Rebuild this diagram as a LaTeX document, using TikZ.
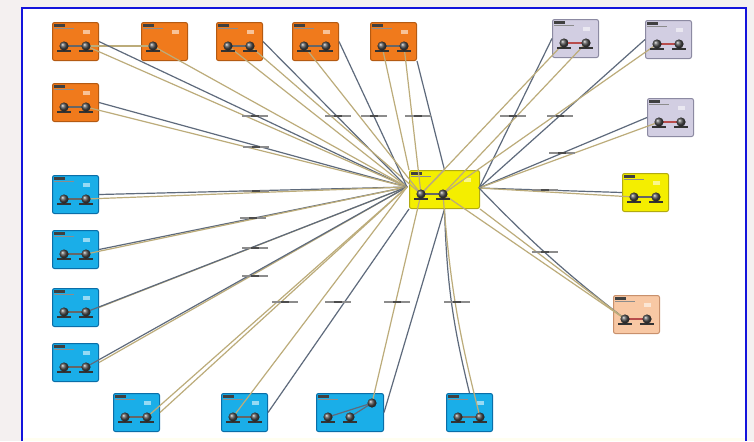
\documentclass[tikz,border=0pt]{standalone}
\usepackage{tikz}
\usetikzlibrary{calc,positioning}

\definecolor{orng}{HTML}{F07A1C}
\definecolor{orngd}{HTML}{B45A12}
\definecolor{lav}{HTML}{D2CEE2}
\definecolor{lavd}{HTML}{8C8AA2}
\definecolor{yel}{HTML}{F4EE00}
\definecolor{yeld}{HTML}{B2AA10}
\definecolor{pch}{HTML}{F8C8A4}
\definecolor{pchd}{HTML}{C8906C}
\definecolor{blu}{HTML}{1AAEE8}
\definecolor{blud}{HTML}{0A6EA8}
\definecolor{wdark}{HTML}{5E6A7C}
\definecolor{wtan}{HTML}{BCAC7A}
\definecolor{frame}{HTML}{1414DC}
\definecolor{outbg}{HTML}{F4F0F0}

\begin{document}
\begin{tikzpicture}[x=0.5pt, y=-0.5pt,
  dev/.style = {draw, rounded corners=1pt, anchor=north west, inner sep=0pt,
                minimum width=23pt, minimum height=19pt, line width=0.5pt},
  wd/.style = {draw=wdark, line width=0.6pt},
  wt/.style = {draw=wtan, line width=0.6pt},
  lbl/.style = {draw=black!45, line width=0.7pt}]
\useasboundingbox (0,0) rectangle (754,441);
\fill[outbg] (0,0) rectangle (754,441);
\fill[white] (22,8) rectangle (746,438);
\fill[yellow!6] (22,438) rectangle (746,441);
\draw[frame, line width=1.1pt] (22,441) -- (22,8) -- (746,8) -- (746,441);

% devices
\node[dev, fill=orng, draw=orngd] (o1) at (52,22) {};
\node[dev, fill=orng, draw=orngd] (o2) at (141,22) {};
\node[dev, fill=orng, draw=orngd] (o3) at (216,22) {};
\node[dev, fill=orng, draw=orngd] (o4) at (292,22) {};
\node[dev, fill=orng, draw=orngd] (o5) at (370,22) {};
\node[dev, fill=orng, draw=orngd] (o6) at (52,83) {};
\node[dev, fill=lav, draw=lavd] (l1) at (552,19) {};
\node[dev, fill=lav, draw=lavd] (l2) at (645,20) {};
\node[dev, fill=lav, draw=lavd] (l3) at (647,98) {};
\node[dev, fill=yel, draw=yeld] (y2) at (622,173) {};
\node[dev, fill=pch, draw=pchd] (pc) at (613,295) {};
\node[dev, fill=blu, draw=blud] (b1) at (52,175) {};
\node[dev, fill=blu, draw=blud] (b2) at (52,230) {};
\node[dev, fill=blu, draw=blud] (b3) at (52,288) {};
\node[dev, fill=blu, draw=blud] (b4) at (52,343) {};
\node[dev, fill=blu, draw=blud] (b5) at (113,393) {};
\node[dev, fill=blu, draw=blud] (b6) at (221,393) {};
\node[dev, fill=blu, draw=blud, minimum width=33.5pt] (b7) at (316,393) {};
\node[dev, fill=blu, draw=blud] (b8) at (446,393) {};
\node[dev, fill=yel, draw=yeld, minimum width=35pt] (hub) at (409,170) {};

% title bars and icons
\foreach \nm in {o1,o2,o3,o4,o5,o6,l1,l2,l3,y2,pc,b1,b2,b3,b4,b5,b6,b7,b8,hub} {
  \fill[black!75] ($(\nm.north west)+(2,2)$) rectangle ++(11,2.5);
  \fill[black!45] ($(\nm.north west)+(2,5.5)$) rectangle ++(20,1.5);
  \fill[white, opacity=0.55] ($(\nm.north east)+(-16,8)$) rectangle ++(7,4);
}

% ports
\foreach \nm in {o1,o3,o4,o5,o6,l1,l2,l3,y2,pc,b1,b2,b3,b4,b5,b6,b7,b8,hub} {
  \coordinate (\nm-a) at ($(\nm.north west)+(12,24)$);
  \coordinate (\nm-b) at ($(\nm.north west)+(34,24)$);
}
\coordinate (o2-a) at ($(o2.north west)+(12,24)$);
\coordinate (b7-c) at ($(b7.north west)+(56,10)$);
\foreach \nm in {o1,o3,o4,o5,o6,b1,b2,b3,b4,b5,b6,b8,hub,y2}
  \draw[black!60, line width=0.6pt] (\nm-a) -- (\nm-b);
\foreach \nm in {l1,l2,l3,pc}
  \draw[red!60!black!70, line width=0.6pt] (\nm-a) -- (\nm-b);
\draw[wd] (b7-a) -- (b7-c);
\draw[wd] (b7-b) -- (b7-c);

% hub ends
\coordinate (hw) at (407,187);
\coordinate (he) at (479,188);

% links
\draw[wt] (o1-b) -- (o2-a);
\draw[wd] (o1.east) -- (hw);
\draw[wt] (o1-b) -- (hw);
\draw[wt] (o2-a) -- (hw);
\draw[wd] (o3.east) -- (hw);
\draw[wt] (o3-a) -- (hw);
\draw[wt] (o3-b) -- (hub-a);
\draw[wd] (o4.east) -- (hw);
\draw[wt] (o4-a) -- (hub-a);
\draw[wt] (o5-a) -- (hub.north west);
\draw[wt] (o5-b) -- (hub-a);
\draw[wd] (o5.south east) -- (hub.north);
\draw[wd] (o6.east) -- (hw);
\draw[wt] (o6-b) -- (hw);
\draw[wd] (l1.west) -- (he);
\draw[wt] (l1-a) -- (hub-a);
\draw[wt] (l1-b) -- (hub-b);
\draw[wd] (l2.west) -- (he);
\draw[wt] (l2-a) -- (hub-b);
\draw[wd] (l3.west) -- (he);
\draw[wt] (l3-a) -- (he);
\draw[wd] (y2.west) -- (he);
\draw[wt] (y2-a) -- (he);
\draw[wd] (pc-a) to[bend left=4] (he);
\draw[wt] (pc-a) -- (hub-b);
\draw[wt] (pc-a) -- (hub.south east);
\draw[wd] (b1.east) -- (hw);
\draw[wt] (b1-b) -- (hw);
\draw[wd] (b2.east) -- (hw);
\draw[wt] (b2-b) -- (hw);
\draw[wt] (b3.east) -- (hw);
\draw[wd] (b3-b) -- (hw);
\draw[wt] (b4.east) -- (hw);
\draw[wd] (b4-b) -- (hw);
\draw[wt] (b5.east) -- (hw);
\draw[wt] (b5-b) -- (hw);
\draw[wt] (b6-a) -- (hw);
\draw[wd] (b6.east) -- (hub.south west);
\draw[wt] (b7-c) -- (hub-a);
\draw[wd] (b7.east) -- (hub.south);
\draw[wd] (b8.north) to[bend left=6] (hub.south);
\draw[wt] (b8-b) to[bend left=5] (hub-b);
\draw[wt] (hub-a) -- (hub.north);

% port balls
\foreach \nm in {o1,o3,o4,o5,o6,l1,l2,l3,y2,pc,b1,b2,b3,b4,b5,b6,b7,b8,hub} {
  \foreach \p in {a,b} {
    \draw[black!80, line width=0.6pt] ($(\nm-\p)+(-7,5)$) -- ++(14,0);
    \shade[ball color=black!70] (\nm-\p) circle (2.3pt);
  }
}
\draw[black!80, line width=0.6pt] ($(o2-a)+(-7,5)$) -- ++(14,0);
\shade[ball color=black!70] (o2-a) circle (2.3pt);
\shade[ball color=black!70] (b7-c) circle (2.3pt);

% link labels
\foreach \x/\y in {255/116,338/116,374/116,418/116,513/116,560/116,256/147,562/153,
                   256/191,545/190,253/218,255/248,255/276,545/252,
                   285/302,338/302,397/302,457/302} {
  \draw[lbl] (\x-13,\y) -- (\x+13,\y);
  \draw[black!70, line width=1pt] (\x-4,\y) -- (\x+4,\y);
}
\end{tikzpicture}
\end{document}
